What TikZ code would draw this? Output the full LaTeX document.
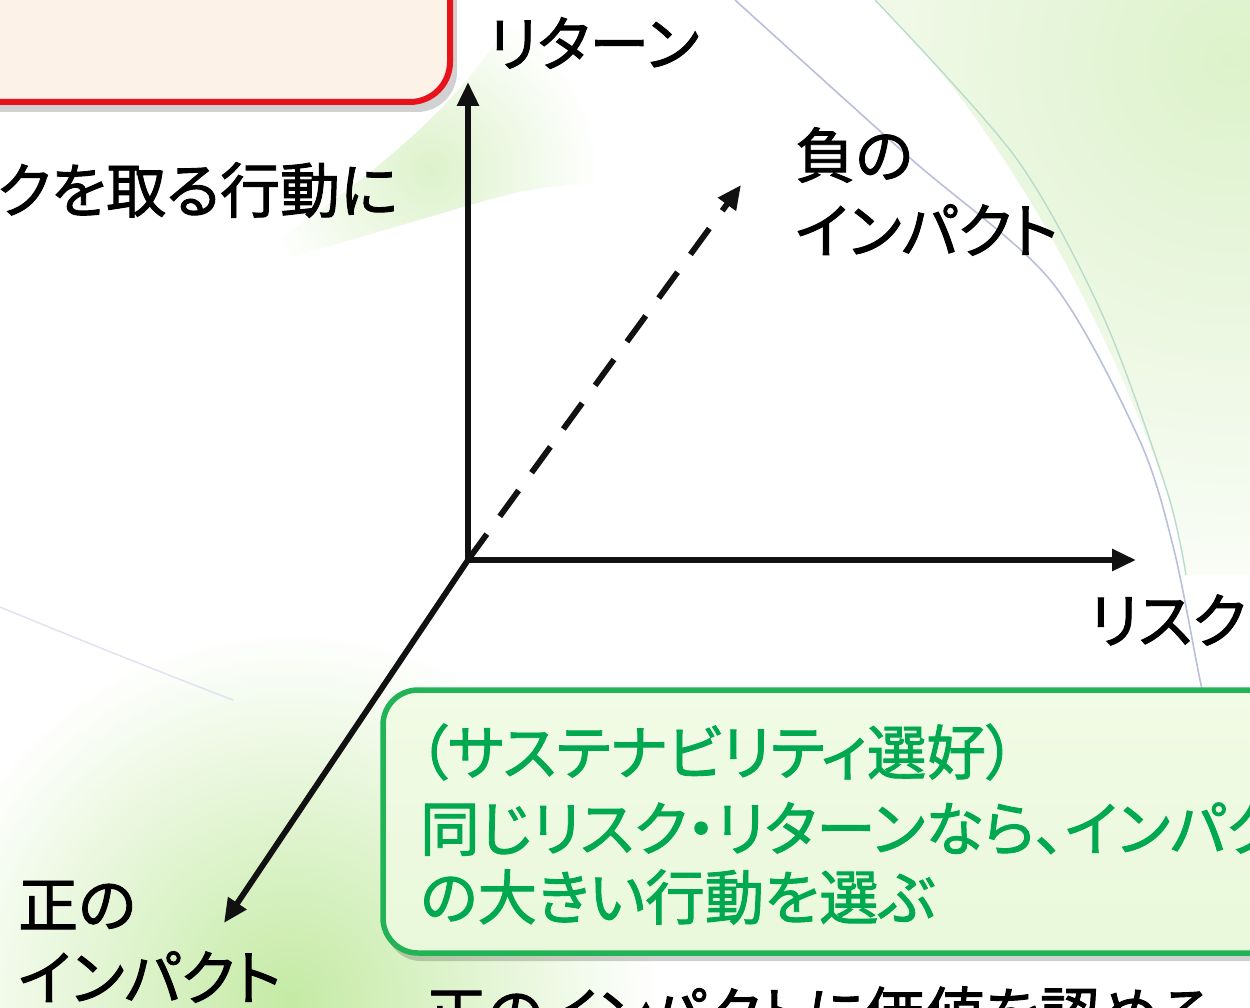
\documentclass[tikz,border=0pt]{standalone}
\usepackage{fontspec}
\setmainfont{Noto Sans CJK JP}[RawFeature=+palt, FakeBold=1.5]
\usetikzlibrary{arrows.meta}
\definecolor{axisblack}{HTML}{111111}
\definecolor{redline}{HTML}{E8121A}
\definecolor{peach}{HTML}{FDF2E7}
\definecolor{grline}{HTML}{22B357}
\definecolor{grtext}{HTML}{00A850}
\definecolor{grfilltop}{HTML}{F1FBE6}
\definecolor{grfillbot}{HTML}{E9F8DA}
\definecolor{bggreen}{HTML}{DDF2CB}
\definecolor{bggreendeep}{HTML}{C4EAA4}
\definecolor{arcblue}{HTML}{B9BFDD}
\definecolor{arcgreen}{HTML}{B8DCCB}
\begin{document}
\begin{tikzpicture}[x=1pt,y=-1pt,
  lbl/.style={inner sep=0pt, font=\fontsize{60}{66}\selectfont, text=black},
  grn/.style={inner sep=0pt, font=\fontsize{59.5}{66}\selectfont, text=grtext},
  axisarrow/.style={line width=5.8pt, draw=axisblack, -{Triangle[length=24pt,width=21pt]}},
  boxshadow/.style={fill=black, opacity=0.18},
  redbox/.style={draw=redline, line width=6pt, fill=peach, rounded corners=40pt},
  greenbox/.style={draw=grline, line width=5.5pt, top color=grfilltop, bottom color=grfillbot, rounded corners=35pt}]
\useasboundingbox (0,0) rectangle (1250,1008);
\clip (0,0) rectangle (1250,1008);
\fill[white] (0,0) rectangle (1250,1008);

% background: top-right green area beyond the arcs
\begin{scope}
  \clip (875,0) .. controls (960,80) and (1080,250) .. (1167,491) .. controls (1178,525) .. (1186,575) -- (1250,575) -- (1250,0) -- cycle;
  \shade[inner color=bggreen, outer color=white] (1230,60) circle (620);
\end{scope}
% background: soft green wedge at upper left
\begin{scope}
  \clip (0,335) .. controls (150,300) and (350,240) .. (470,205) .. controls (540,185) .. (700,180) -- (700,0) -- (520,0) .. controls (470,100) and (380,170) .. (250,260) .. controls (150,320) .. (0,335) -- cycle;
  \shade[inner color=bggreen, outer color=white] (430,170) circle (170);
\end{scope}
% background: bottom-left green
\shade[inner color=bggreendeep, outer color=white] (290,1000) circle (370);
% faint arcs
\draw[arcblue, line width=1.6pt] plot[smooth] coordinates {(735,0) (910,158) (1051,281) (1139,439) (1174,550) (1200,680) (1210,720)};
\draw[arcgreen, line width=1.4pt] plot[smooth] coordinates {(875,0) (1016,158) (1103,316) (1167,491) (1186,575)};
\draw[arcblue!45, line width=1.4pt] (0,607) .. controls (80,640) and (160,672) .. (233,700);

% red box (top left, cut by the frame)
\fill[boxshadow, rounded corners=40pt] (-40,-40) rectangle (457,112);
\node[redbox, minimum width=495pt, minimum height=146pt, anchor=south east] (rbox) at (453,105) {};

% green box (bottom right, cut by the frame)
\fill[boxshadow, rounded corners=35pt] (386,697) rectangle (1320,961);
\draw[greenbox] (383,690) rectangle (1320,953);
\coordinate (gbox) at (383,690);

% axes
\coordinate (O) at (468,560);
\coordinate (ytip) at (468,82);
\coordinate (xtip) at (1136,560);
\coordinate (ntip) at (741,185);
\coordinate (ptip) at (224,923);
\draw[axisarrow] ([yshift=-3pt]O) -- (ytip);
\draw[axisarrow] ([xshift=-3pt]O) -- (xtip);
\draw[axisarrow, dash pattern=on 32pt off 22pt] (O) -- (ntip);
\draw[axisarrow] (O) -- (ptip);

% labels
\node[lbl, anchor=west] (ret) at (488,43) {リターン};
\node[lbl, anchor=west] (neg1) at (795,155) {負の};
\node[lbl, anchor=west] (neg2) at (795,230) {インパクト};
\node[lbl, anchor=west] (risk) at (1089,620) {リスク};
\node[lbl, anchor=east] (act) at (398,190) {リスクを取る行動に};
\node[lbl, anchor=west] (pos1) at (18,905) {正の};
\node[lbl, anchor=west] (pos2) at (18,977) {インパクト};

% green box text
\node[grn, anchor=west] (g1) at (418,752) {（サステナビリティ選好）};
\node[grn, anchor=west] (g2) at (420,829) {同じリスク・リターンなら、インパクト};
\node[grn, anchor=west] (g3) at (420,897) {の大きい行動を選ぶ};

% bottom text (cut by the frame)
\node[inner sep=0pt, font=\fontsize{60}{66}\selectfont, anchor=west] (bot) at (426,1014) {正のインパクトに価値を認める};
\end{tikzpicture}
\end{document}
